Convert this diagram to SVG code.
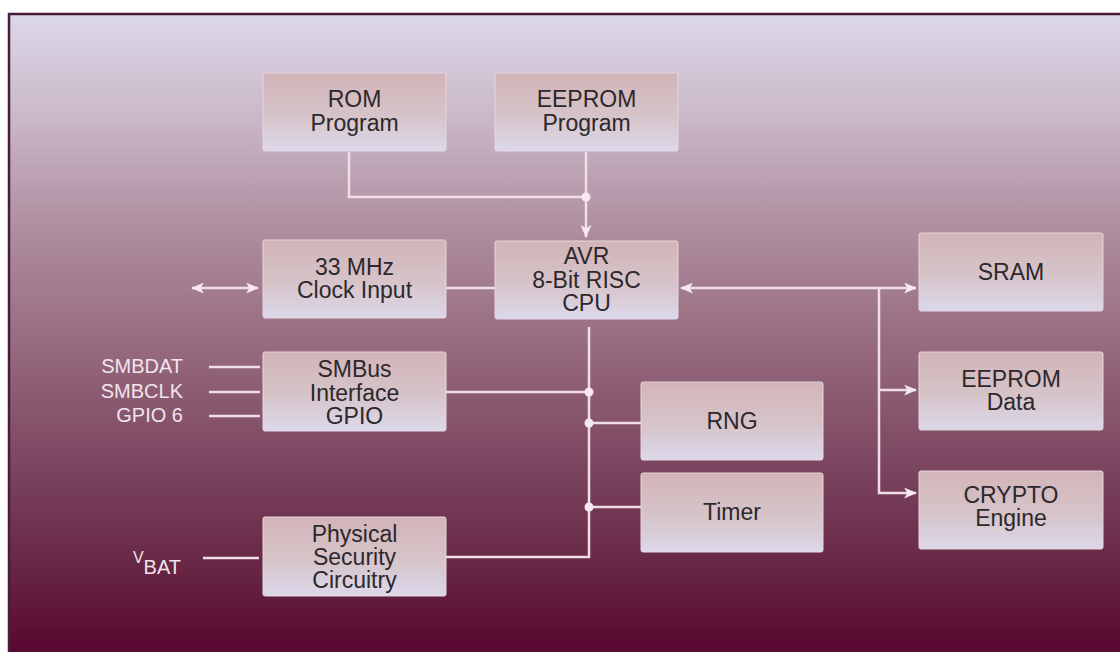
<svg xmlns="http://www.w3.org/2000/svg" width="1120" height="652" viewBox="0 0 1120 652">
<defs>
<linearGradient id="bg" x1="0" y1="0" x2="0" y2="1">
<stop offset="0" stop-color="#dbd8e8"/>
<stop offset="0.15" stop-color="#cbb9ca"/>
<stop offset="0.32" stop-color="#af8fa0"/>
<stop offset="0.5" stop-color="#976b7e"/>
<stop offset="0.68" stop-color="#7c4660"/>
<stop offset="0.85" stop-color="#662442"/>
<stop offset="1" stop-color="#55002c"/>
</linearGradient>
<linearGradient id="box" x1="0" y1="0" x2="0" y2="1">
<stop offset="0" stop-color="#d2b4b8"/>
<stop offset="0.55" stop-color="#d6c4c9"/>
<stop offset="1" stop-color="#dcd8ea"/>
</linearGradient>
<marker id="arr" viewBox="0 0 12 10" refX="11" refY="5" markerWidth="13" markerHeight="11" markerUnits="userSpaceOnUse" orient="auto-start-reverse">
<path d="M0,0 L12,5 L0,10 L3,5 z" fill="#f6eaf0"/>
</marker>
</defs>
<style>
.node rect{fill:url(#box);stroke:#e6d6de;stroke-width:1;}
.node text{font-family:"Liberation Sans",Arial,Helvetica,sans-serif;font-size:23px;fill:#2c282c;text-anchor:middle;}
.conn{fill:none;stroke:#f0dde7;stroke-width:2.5;}
.dot{fill:#f6eaf0;}
.lbl{font-family:"Liberation Sans",Arial,Helvetica,sans-serif;font-size:20px;fill:#f2e4ec;text-anchor:end;}
</style>
<rect x="0" y="0" width="1120" height="652" fill="#ffffff"/>
<rect x="9" y="14" width="1130" height="660" fill="url(#bg)" stroke="#4a1c3c" stroke-width="2.5"/>

<g id="connectors">
<path class="conn" d="M349,152 V197 H586"/>
<path class="conn" d="M586,152 V237" marker-end="url(#arr)"/>
<circle class="dot" cx="586" cy="197" r="4.5"/>
<path class="conn" d="M446,288 H495"/>
<path class="conn" d="M192,288 H258" marker-start="url(#arr)" marker-end="url(#arr)"/>
<path class="conn" d="M681,288 H916" marker-start="url(#arr)" marker-end="url(#arr)"/>
<path class="conn" d="M879,288 V493 H916" marker-end="url(#arr)"/>
<path class="conn" d="M879,390 H916" marker-end="url(#arr)"/>
<path class="conn" d="M589,327 V557 H446"/>
<path class="conn" d="M446,392 H589"/>
<path class="conn" d="M589,423 H641"/>
<path class="conn" d="M589,507 H641"/>
<circle class="dot" cx="589" cy="392" r="4.5"/>
<circle class="dot" cx="589" cy="423" r="4.5"/>
<circle class="dot" cx="589" cy="507" r="4.5"/>
<path class="conn" d="M209,367 H260 M209,392 H260 M209,416 H260"/>
<path class="conn" d="M203,558 H259"/>
</g>

<g id="labels">
<text class="lbl" x="183" y="373">SMBDAT</text>
<text class="lbl" x="183" y="398">SMBCLK</text>
<text class="lbl" x="183" y="422">GPIO 6</text>
<text class="lbl" x="181" y="574"><tspan font-size="16" dy="-11">V</tspan><tspan dy="11">BAT</tspan></text>
</g>

<g id="rom" class="node">
<rect x="263" y="73" width="183" height="78" rx="2"/>
<text x="354.5" y="107">ROM</text>
<text x="354.5" y="131">Program</text>
</g>
<g id="eeprom-program" class="node">
<rect x="495" y="73" width="183" height="78" rx="2"/>
<text x="586.5" y="107">EEPROM</text>
<text x="586.5" y="131">Program</text>
</g>
<g id="clock" class="node">
<rect x="263" y="240" width="183" height="78" rx="2"/>
<text x="354.5" y="275">33 MHz</text>
<text x="354.5" y="298">Clock Input</text>
</g>
<g id="cpu" class="node">
<rect x="495" y="241" width="183" height="78" rx="2"/>
<text x="586.5" y="264">AVR</text>
<text x="586.5" y="288">8-Bit RISC</text>
<text x="586.5" y="311">CPU</text>
</g>
<g id="smbus" class="node">
<rect x="263" y="352" width="183" height="79" rx="2"/>
<text x="354.5" y="377">SMBus</text>
<text x="354.5" y="401">Interface</text>
<text x="354.5" y="424">GPIO</text>
</g>
<g id="physical" class="node">
<rect x="263" y="517" width="183" height="79" rx="2"/>
<text x="354.5" y="542">Physical</text>
<text x="354.5" y="565">Security</text>
<text x="354.5" y="588">Circuitry</text>
</g>
<g id="rng" class="node">
<rect x="641" y="382" width="182" height="78" rx="2"/>
<text x="732" y="429">RNG</text>
</g>
<g id="timer" class="node">
<rect x="641" y="473" width="182" height="79" rx="2"/>
<text x="732" y="520">Timer</text>
</g>
<g id="sram" class="node">
<rect x="919" y="233" width="184" height="78" rx="2"/>
<text x="1011" y="280">SRAM</text>
</g>
<g id="eeprom-data" class="node">
<rect x="919" y="352" width="184" height="78" rx="2"/>
<text x="1011" y="387">EEPROM</text>
<text x="1011" y="410">Data</text>
</g>
<g id="crypto" class="node">
<rect x="919" y="471" width="184" height="78" rx="2"/>
<text x="1011" y="503">CRYPTO</text>
<text x="1011" y="526">Engine</text>
</g>
</svg>
